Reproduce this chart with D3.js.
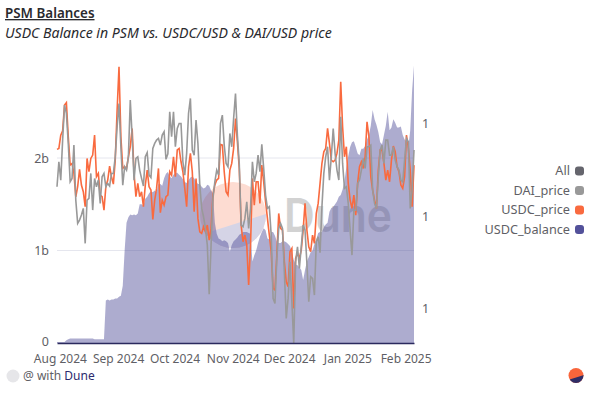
<!DOCTYPE html>
<html>
<head>
<meta charset="utf-8">
<script src="https://cdn.jsdelivr.net/npm/d3@7"></script>
<style>
  body { margin: 0; background: #fff; }
  text { font-family: "Noto Sans", sans-serif; fill: #5f5f66; }
  .title { font-size: 13.4px; font-weight: 600; fill: #2a2a2e; text-decoration: underline; }
  .subtitle { font-size: 14.1px; font-style: italic; fill: #2a2a2e; }
  .axis text { font-size: 12px; }
  .value-axis text { font-size: 12.5px; }
  .legend text { font-size: 12.7px; text-anchor: end; }
</style>
</head>
<body>
<div id="wrapper"></div>
<script>
// daily rows, first one is 31 Jul 2024
const firstDay = new Date(2024, 6, 31);

// USDC balance in the PSM, billions
const usdcBalance = [
  .01,.01,.01,.01,.01,.03,.04,.05,.05,.05,.05,.05,.05,.05,.05,.05,.05,.05,.05,.05,
  .04,.04,.04,.04,.04,.04,.46,.47,.46,.47,.47,.48,.48,.5,.51,.62,1.0,1.3,1.36,1.39,
  1.38,1.39,1.38,1.4,1.5,1.5,1.48,1.56,1.58,1.62,1.64,1.63,1.65,1.63,1.72,1.72,1.7,1.78,1.83,1.85,
  1.8,1.78,1.82,1.84,1.84,1.82,1.8,1.77,1.74,1.73,1.76,1.79,1.8,1.78,1.75,1.72,1.72,1.69,1.67,1.68,
  1.71,1.7,1.65,1.62,1.3,1.18,1.13,1.12,1.1,1.11,1.1,1.08,.99,1.06,1.1,1.12,1.14,1.17,1.18,1.2,
  1.2,1.2,1.19,1.18,.88,.95,1.0,1.08,1.15,1.2,1.24,1.22,1.13,1.12,1.2,1.2,1.16,1.1,1.08,1.08,
  1.1,1.1,1.09,1.07,1.05,.98,.9,.85,.84,.82,.79,.68,.79,.88,.93,.98,1.0,1.07,1.12,1.19,
  1.2,1.2,1.25,1.28,1.3,1.42,1.46,1.47,1.5,1.53,1.58,1.6,1.66,1.75,1.9,2.02,2.12,2.17,2.18,2.12,
  2.05,2.03,2.1,2.1,2.13,2.2,2.25,2.35,2.52,2.42,2.36,2.28,2.17,2.15,2.25,2.35,2.5,2.3,2.33,2.42,
  2.38,2.33,2.33,2.34,2.25,2.2,2.18,2.12,2.3,2.73,3.0
];

// prices, as parts per million away from 1 USD
const usdcPricePpm = [
  360,365,437,460,599,612,428,275,284,230,104,158,252,167,131,50,311,239,311,329,
  437,212,230,113,104,32,158,194,270,212,172,302,572,806,428,257,266,257,320,374,
  473,230,104,176,104,131,50,167,248,158,140,-18,86,149,257,18,86,59,104,113,
  239,221,320,212,357,365,
  293,239,149,50,266,338,239,23,203,-13,-85,-94,-58,-85,-49,-130,-67,113,167,194,
  203,387,383,239,131,113,248,284,365,527,401,257,-49,-139,-103,-157,-373,-157,203,59,
  185,185,68,275,185,77,-13,-103,-193,-391,-400,-211,14,-67,-76,-247,-355,-382,-193,-175,
  -499,-229,-202,-229,
  -184,-76,68,-76,-166,-193,-103,-148,14,68,176,284,347,365,473,392,302,293,302,338,
  410,725,482,320,374,176,86,41,113,5,176,266,293,257,320,509,428,212,140,86,
  41,248,356,356,284,194,248,185,302,378,347,266,239,167,149,212,437,365,248,50,275
];
const daiPricePpm = [
  158,293,194,410,599,554,392,185,203,383,86,-40,-22,5,41,-148,86,95,230,32,
  203,158,194,68,212,230,158,176,162,230,230,320,482,608,374,167,266,248,320,626,
  428,194,311,320,248,203,162,320,342,221,208,365,392,410,419,383,437,455,306,336,
  563,428,563,374,473,500,
  500,293,221,338,554,635,356,329,518,392,167,41,-4,-67,-157,-423,-157,95,185,248,
  221,500,545,383,284,266,446,374,527,662,437,284,-49,-58,-13,77,-67,41,293,185,
  230,329,239,387,257,113,41,50,-103,-445,-472,-229,-67,-40,-67,-301,-553,-445,-247,-463,
  -688,-247,-166,-283,
  -166,-49,-76,-256,-463,-328,-337,-427,-139,-112,-198,50,230,320,374,194,320,473,338,248,
  194,536,284,149,158,68,-76,-211,32,32,176,194,248,311,257,374,374,383,140,68,
  41,212,357,383,284,410,410,329,329,374,302,266,248,194,185,302,419,401,41,140,357
];

const legendLabels = ["All", "DAI_price", "USDC_price", "USDC_balance"];
const legendColors = ["#65656d", "#999999", "#f96a3f", "#53519a"];
const balanceTicks = [0, 1e9, 2e9];
const priceTicks = [0.9995, 1, 1.0005];

const dimensions = {
  width: 590,
  height: 393,
  left: 57,
  right: 414,
  top: 65.5,
  bottom: 343,
};

const rows = usdcBalance.map((d, i) => ({
  date: d3.timeDay.offset(firstDay, i),
  balance: d * 1e9,
  usdc: 1 + usdcPricePpm[i] / 1e6,
  dai: 1 + daiPricePpm[i] / 1e6,
}));

const xScale = d3.scaleTime()
  .domain(d3.extent(rows, d => d.date))
  .range([dimensions.left, dimensions.right]);
const balanceScale = d3.scaleLinear()
  .domain([0, 3e9])
  .range([dimensions.bottom, dimensions.top]);
const priceScale = d3.scaleLinear()
  .domain([1 - 686e-6, 1 + 813e-6])
  .range([dimensions.bottom, dimensions.top]);

const wrapper = d3.select("#wrapper")
  .append("svg")
    .attr("width", dimensions.width)
    .attr("height", dimensions.height);

wrapper.append("text").attr("class", "title").attr("x", 5).attr("y", 18).text("PSM Balances");
wrapper.append("text").attr("class", "subtitle").attr("x", 5).attr("y", 38)
  .text("USDC Balance in PSM vs. USDC/USD & DAI/USD price");

// grid
wrapper.append("g")
  .selectAll("line")
  .data(balanceTicks.slice(1))
  .join("line")
    .attr("x1", dimensions.left)
    .attr("x2", dimensions.right)
    .attr("y1", d => balanceScale(d))
    .attr("y2", d => balanceScale(d))
    .attr("stroke", "#e5e6ee");

// watermark sits under the area
const mark = wrapper.append("g");
mark.append("clipPath").attr("id", "mark-clip")
  .append("circle").attr("cx", 233).attr("cy", 215).attr("r", 33);
const markInner = mark.append("g").attr("clip-path", "url(#mark-clip)");
markInner.append("rect").attr("x", 200).attr("y", 182).attr("width", 66).attr("height", 66).attr("fill", "#fddcd2");
markInner.append("path").attr("d", "M200,235L266,214V248H200Z").attr("fill", "#d5d4e6");
mark.append("text")
  .attr("x", 284).attr("y", 232)
  .attr("textLength", 108).attr("lengthAdjust", "spacingAndGlyphs")
  .style("font-family", "Inter").style("font-size", "47px").style("font-weight", 600)
  .style("fill", "#d2d2d2")
  .text("Dune");

const areaGenerator = d3.area()
  .x(d => xScale(d.date))
  .y0(balanceScale(0))
  .y1(d => balanceScale(d.balance));
wrapper.append("path")
  .attr("d", areaGenerator(rows))
  .attr("fill", "#53519a")
  .attr("fill-opacity", 0.48);

const usdcLine = d3.line().x(d => xScale(d.date)).y(d => priceScale(d.usdc));
const daiLine = d3.line().x(d => xScale(d.date)).y(d => priceScale(d.dai));
wrapper.append("path")
  .attr("d", usdcLine(rows))
  .attr("fill", "none").attr("stroke", "#f96a3f").attr("stroke-width", 1.6);
wrapper.append("path")
  .attr("d", daiLine(rows))
  .attr("fill", "none").attr("stroke", "#999999").attr("stroke-width", 1.6);

// axes
const xAxis = d3.axisBottom(xScale)
  .tickValues(d3.timeMonth.range(new Date(2024, 7, 1), new Date(2025, 2, 1)))
  .tickFormat(d3.timeFormat("%b %Y"))
  .tickSize(0)
  .tickSizeOuter(0)
  .tickPadding(11);
const xAxisGroup = wrapper.append("g")
  .attr("class", "axis")
  .attr("transform", `translate(0,${dimensions.bottom})`)
  .call(xAxis);
xAxisGroup.select(".domain").attr("stroke", "#2b2a5e").attr("stroke-width", 1.5);
xAxisGroup.selectAll("text").attr("dx", 1);

const balanceAxis = d3.axisLeft(balanceScale)
  .tickValues(balanceTicks)
  .tickFormat(d => d == 0 ? "0" : `${d / 1e9}b`)
  .tickSize(0)
  .tickPadding(8);
wrapper.append("g")
  .attr("class", "axis value-axis")
  .attr("transform", `translate(${dimensions.left},0)`)
  .call(balanceAxis)
  .call(g => g.select(".domain").remove())
  // keeps the 0 clear of the Aug 2024 label
  .call(g => g.selectAll("text").filter(d => d == 0).attr("y", -1.5));

const priceAxis = d3.axisRight(priceScale)
  .tickValues(priceTicks)
  .tickFormat(d3.format(".0f"))
  .tickSize(0)
  .tickPadding(8);
wrapper.append("g")
  .attr("class", "axis value-axis")
  .attr("transform", `translate(${dimensions.right},0)`)
  .call(priceAxis)
  .call(g => g.select(".domain").remove());

// legend
const legend = wrapper.append("g").attr("class", "legend")
  .selectAll("g")
  .data(legendLabels)
  .join("g")
    .attr("transform", (d, i) => `translate(570,${171 + i * 19.5})`);
legend.append("text").attr("dy", "0.35em").text(d => d);
legend.append("rect")
  .attr("x", 5).attr("y", -4.5)
  .attr("width", 9).attr("height", 9).attr("rx", 3)
  .attr("fill", (d, i) => legendColors[i]);

// footer
wrapper.append("circle").attr("cx", 13).attr("cy", 376).attr("r", 6.5).attr("fill", "#e6e6e9");
const footer = wrapper.append("text").attr("x", 23).attr("y", 380).style("font-size", "12px");
footer.append("tspan").text("@ with ");
footer.append("tspan").style("fill", "#2c2a6e").text("Dune");

wrapper.append("clipPath").attr("id", "logo-clip")
  .append("circle").attr("cx", 576).attr("cy", 375.5).attr("r", 7.5);
const logo = wrapper.append("g").attr("clip-path", "url(#logo-clip)");
logo.append("rect").attr("x", 568).attr("y", 367).attr("width", 16).attr("height", 17).attr("fill", "#f9653b");
logo.append("path").attr("d", "M568,380L584,375V384H568Z").attr("fill", "#2f2d66");
</script>
</body>
</html>
